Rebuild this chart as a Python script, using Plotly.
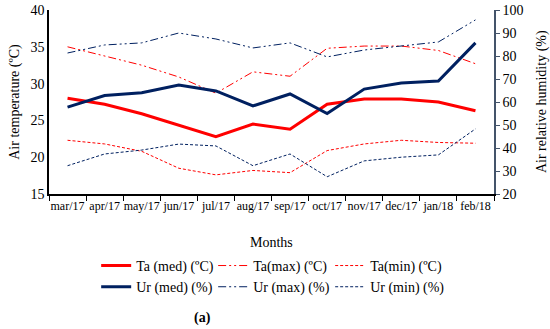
import plotly.graph_objects as go

months = ["mar/17", "apr/17", "may/17", "jun/17", "jul/17", "aug/17", "sep/17",
          "oct/17", "nov/17", "dec/17", "jan/18", "feb/18"]
ta_med = [28.0, 27.2, 25.9, 24.3, 22.8, 24.5, 23.8, 27.2, 27.9, 27.9, 27.5, 26.3]
ta_max = [35.0, 33.7, 32.5, 30.9, 28.7, 31.6, 31.0, 34.8, 35.1, 35.1, 34.5, 32.7]
ta_min = [22.3, 21.8, 20.8, 18.5, 17.6, 18.2, 17.9, 20.9, 21.8, 22.3, 22.0, 21.9]
ur_med = [57.8, 62.8, 64.0, 67.4, 64.8, 58.3, 63.5, 55.0, 65.6, 68.3, 69.1, 85.7]
ur_max = [81.3, 84.8, 85.7, 90.0, 87.4, 83.5, 85.7, 79.6, 82.6, 84.3, 86.1, 95.7]
ur_min = [32.3, 37.4, 39.1, 41.7, 40.9, 32.3, 37.4, 27.5, 34.4, 36.0, 37.0, 48.3]

RED = "#FF0000"
NAVY = "#002060"
DDOT = "8px,3px,2px,3px,2px,3px"

fig = go.Figure()
fig.add_trace(go.Scatter(x=months, y=ta_med, name="Ta (med) (ºC)", mode="lines",
                         line=dict(color=RED, width=3)))
fig.add_trace(go.Scatter(x=months, y=ta_max, name="Ta(max) (ºC)", mode="lines",
                         line=dict(color=RED, width=1, dash=DDOT)))
fig.add_trace(go.Scatter(x=months, y=ta_min, name="Ta(min) (ºC)", mode="lines",
                         line=dict(color=RED, width=1, dash="3px,2px")))
fig.add_trace(go.Scatter(x=months, y=ur_med, name="Ur (med) (%)", mode="lines",
                         line=dict(color=NAVY, width=3), yaxis="y2"))
fig.add_trace(go.Scatter(x=months, y=ur_max, name="Ur (max) (%)", mode="lines",
                         line=dict(color=NAVY, width=1, dash=DDOT), yaxis="y2"))
fig.add_trace(go.Scatter(x=months, y=ur_min, name="Ur (min) (%)", mode="lines",
                         line=dict(color=NAVY, width=1, dash="3px,2px"), yaxis="y2"))

FONT = "Liberation Serif"
fig.update_layout(
    width=550, height=329,
    margin=dict(l=49, r=56, t=10, b=135, autoexpand=False),
    plot_bgcolor="white", paper_bgcolor="white",
    font=dict(family=FONT, size=13, color="black"),
    showlegend=True,
    legend=dict(orientation="h", x=0.106, xref="paper", y=-0.304, yanchor="top",
                entrywidth=72, entrywidthmode="pixels",
                font=dict(family=FONT, size=14), tracegroupgap=0,
                bgcolor="rgba(0,0,0,0)"),
    xaxis=dict(type="category", showline=True, linecolor="black", linewidth=1.5,
               ticks="outside", tickson="boundaries", ticklen=5, tickcolor="black",
               showgrid=False, tickfont=dict(size=12), tickangle=0, range=[-0.5, 11.5],
               automargin=False),
    yaxis=dict(range=[15, 40], dtick=5, showline=True, linecolor="black", linewidth=1.5,
               ticks="", showgrid=False, zeroline=False, tickfont=dict(size=14),
               automargin=False, ticklabeloverflow="allow",
               title=dict(text="Air temperature (ºC)", font=dict(size=14), standoff=8)),
    yaxis2=dict(range=[20, 100], dtick=10, overlaying="y", side="right",
                showline=True, linecolor="#44546A", linewidth=1.5,
                ticks="outside", ticklen=4, tickcolor="#44546A",
                showgrid=False, zeroline=False, tickfont=dict(size=14),
                automargin=False, ticklabeloverflow="allow"),
    annotations=[
        dict(text="Air relative humidity (%)", x=1.108, y=0.5, xref="paper", yref="paper",
             textangle=-90, showarrow=False, font=dict(size=14),
             xanchor="center", yanchor="middle"),
        dict(text="Months", x=0.501, y=-0.266, xref="paper", yref="paper",
             showarrow=False, font=dict(size=14), xanchor="center", yanchor="middle"),
        dict(text="<b>(a)</b>", x=0.344, y=-0.674, xref="paper", yref="paper",
             showarrow=False, font=dict(size=14), xanchor="center", yanchor="middle"),
    ],
)

fig.write_html("out.html", config={"displayModeBar": False},
               post_script="document.body.style.margin='0';")
